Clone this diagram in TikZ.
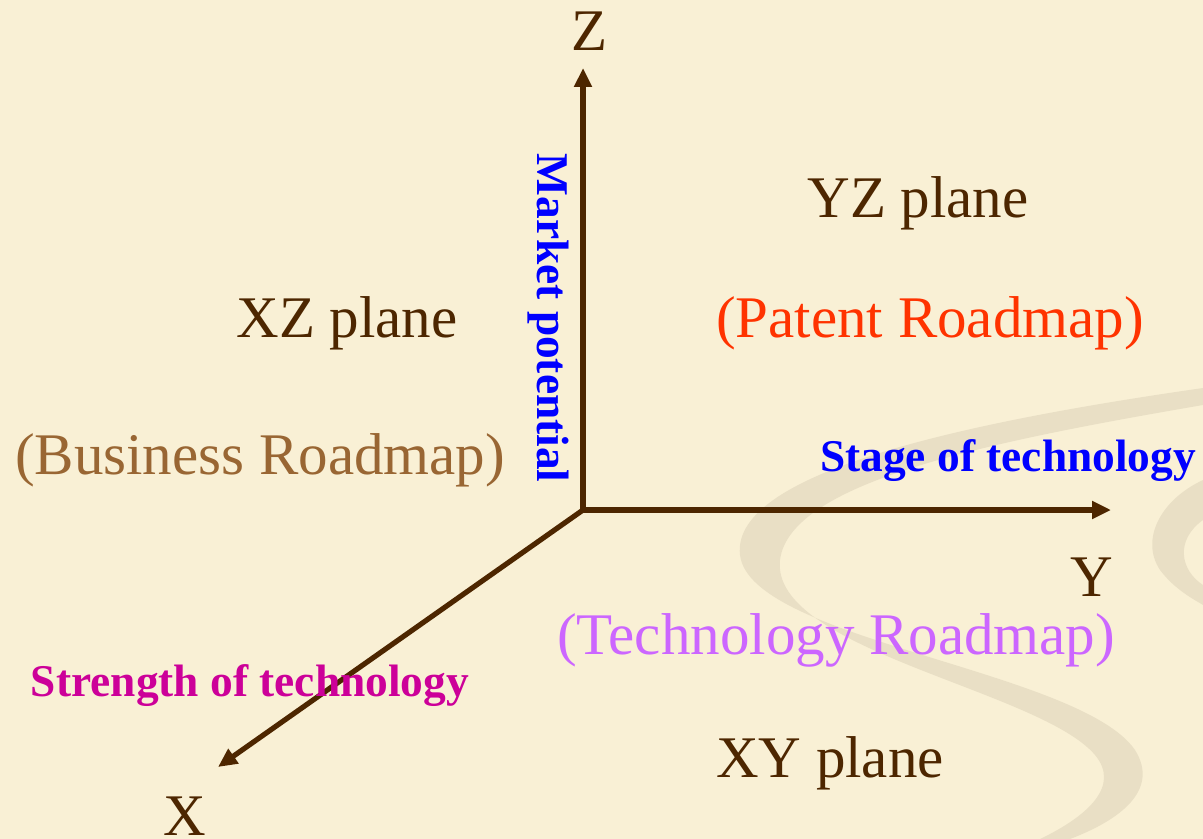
\documentclass[tikz,border=0pt]{standalone}
\usepackage{fontspec}
\setmainfont{Liberation Serif}
\usetikzlibrary{arrows.meta}
\begin{document}
\definecolor{paper}{RGB}{249,240,213}
\definecolor{swirl}{RGB}{228,218,192}
\definecolor{axisbrown}{RGB}{77,38,0}
\definecolor{patent}{RGB}{255,51,0}
\definecolor{business}{RGB}{153,102,51}
\definecolor{techroad}{RGB}{204,102,255}
\definecolor{strength}{RGB}{204,0,153}
\begin{tikzpicture}[x=0.5pt,y=-0.5pt,
  axis/.style={draw=axisbrown,line width=2.6pt,-{Triangle[length=9.5pt,width=8.5pt]}},
  plane/.style={font=\fontsize{29.5}{32}\selectfont,text=axisbrown,inner sep=0pt},
  road/.style={font=\fontsize{29.5}{32}\selectfont,inner sep=0pt},
  axlabel/.style={font=\fontsize{22.7}{25}\selectfont\bfseries,inner sep=0pt}]
\useasboundingbox (0,0) rectangle (1203,839);
\fill[paper] (0,0) rectangle (1203,839);
% decorative swirl bands
\fill[swirl,opacity=0.75]
  (1203,388) .. controls (980,420) and (730,470) .. (740,555)
  .. controls (750,640) and (1080,670) .. (1135,750)
  .. controls (1160,790) and (1120,820) .. (1070,839)
  -- (1040,839)
  .. controls (1090,815) and (1120,785) .. (1095,755)
  .. controls (1040,690) and (770,650) .. (780,560)
  .. controls (790,480) and (1000,440) .. (1203,405) -- cycle;
\fill[swirl,opacity=0.75]
  (1203,480) .. controls (1160,500) and (1140,540) .. (1160,570)
  .. controls (1175,590) and (1195,600) .. (1203,605) -- (1203,585)
  .. controls (1180,570) and (1175,540) .. (1203,520) -- cycle;
% axes
\coordinate (O) at (583,510);
\coordinate (zt) at (583,68);
\coordinate (yt) at (1111,510);
\coordinate (xt) at (218,767);
\draw[axis] (O) -- (zt);
\draw[axis] (O) -- (yt);
\draw[axis] (O) -- (xt);
% axis letters
\node[plane] (Z) at (590,31) {Z};
\node[plane] (Y) at (1092,577) {Y};
\node[plane] (X) at (185,816) {X};
% planes
\node[plane] (yz) at (918,203) {YZ plane};
\node[road,text=patent] (pat) at (930,323) {(Patent Roadmap)};
\node[plane] (xz) at (347,323) {XZ plane};
\node[road,text=business] (bus) at (260,460) {(Business Roadmap)};
\node[road,text=techroad] (tech) at (836,640) {(Technology Roadmap)};
\node[plane] (xy) at (830,763) {XY plane};
% axis descriptions
\node[axlabel,text=blue] (stage) at (1008,461) {Stage of technology};
\node[axlabel,text=strength] (str) at (250,686) {Strength of technology};
\node[axlabel,text=blue,rotate=-90] (mkt) at (548,318) {Market potential};
\end{tikzpicture}
\end{document}
